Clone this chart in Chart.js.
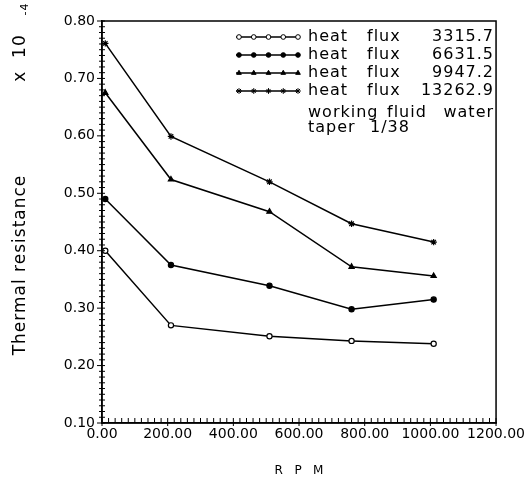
<!DOCTYPE html>
<html>
<head>
<meta charset="UTF-8">
<title>Thermal resistance vs RPM</title>
<script src="https://cdn.jsdelivr.net/npm/chart.js"></script>
<style>
    body { margin: 0; background: #fff; }
    #wrap { width: 528px; height: 484px; }
</style>
</head>
<body>
<div id="wrap"><canvas id="chart" width="528" height="484"></canvas></div>
<script>
// datos
const rpm = [10, 210, 510, 760, 1010];
const flux1 = [0.400, 0.270, 0.251, 0.243, 0.238];
const flux2 = [0.490, 0.375, 0.339, 0.298, 0.315];
const flux3 = [0.675, 0.524, 0.468, 0.372, 0.356];
const flux4 = [0.761, 0.599, 0.520, 0.447, 0.415];
const fluxLabels = ['3315.7', '6631.5', '9947.2', '13262.9'];

const FONT = 'DejaVu Sans';
const styles = [
    { pointStyle: 'circle', radius: 2.6, fill: '#fff' },
    { pointStyle: 'circle', radius: 2.6, fill: '#000' },
    { pointStyle: 'triangle', radius: 3, fill: '#000' },
    { pointStyle: 'star', radius: 3.2, fill: '#000' }
];

function makeSet(label, values, st) {
    return {
        label: 'heat flux ' + label,
        data: values.map((v, i) => ({ x: rpm[i], y: v })),
        borderColor: '#000',
        borderWidth: 1.5,
        pointStyle: st.pointStyle,
        pointRadius: st.radius,
        pointBackgroundColor: st.fill,
        pointBorderColor: '#000',
        pointBorderWidth: 1.2,
        tension: 0
    };
}

function isMultiple(v, step) {
    const q = v / step;
    return Math.abs(q - Math.round(q)) < 1e-6;
}

// ticks menores, marco y textos extra
const extras = {
    id: 'extras',
    afterDraw(chart) {
        const ctx = chart.ctx;
        const a = chart.chartArea;
        const xs = chart.scales.x, ys = chart.scales.y;
        ctx.save();
        ctx.strokeStyle = '#000';
        ctx.lineWidth = 1;
        ys.ticks.forEach(t => {
            const py = ys.getPixelForValue(t.value);
            const big = isMultiple(t.value, 0.1);
            ctx.beginPath();
            ctx.moveTo(a.left - (big ? 5 : 3), py);
            ctx.lineTo(a.left + 3, py);
            ctx.stroke();
        });
        xs.ticks.forEach(t => {
            const px = xs.getPixelForValue(t.value);
            const big = isMultiple(t.value, 200);
            ctx.beginPath();
            ctx.moveTo(px, a.bottom + (big ? 3 : 0));
            ctx.lineTo(px, a.bottom - 5);
            ctx.stroke();
        });
        ctx.lineWidth = 1.5;
        ctx.strokeRect(a.left, a.top, a.right - a.left, a.bottom - a.top);

        // leyenda
        ctx.font = '16px "' + FONT + '"';
        ctx.letterSpacing = '1px';
        ctx.textBaseline = 'middle';
        const lx0 = a.left + 137, lx1 = a.left + 196, tx = a.left + 206, nx = a.right - 2;
        const rowY = [a.top + 16, a.top + 34, a.top + 52, a.top + 70];
        chart.data.datasets.forEach((ds, i) => {
            const y = rowY[i];
            ctx.lineWidth = 1.5;
            ctx.beginPath();
            ctx.moveTo(lx0 - 3, y);
            ctx.lineTo(lx1, y);
            ctx.stroke();
            ctx.lineWidth = 1;
            for (let k = 0; k < 5; k++) {
                const px = lx0 + k * (lx1 - lx0) / 4;
                ctx.fillStyle = ds.pointBackgroundColor;
                Chart.helpers.drawPoint(ctx, {
                    pointStyle: ds.pointStyle, radius: ds.pointRadius * 0.9,
                    rotation: 0, borderWidth: 1
                }, px, y);
            }
            ctx.fillStyle = '#000';
            ctx.textAlign = 'left';
            ctx.fillText('heat', tx, y);
            ctx.fillText('flux', tx + 59, y);
            ctx.textAlign = 'right';
            ctx.fillText(fluxLabels[i], nx, y);
        });
        ctx.fillStyle = '#000';
        ctx.textAlign = 'left';
        ctx.fillText('working', tx, a.top + 92);
        ctx.fillText('fluid', tx + 79, a.top + 92);
        ctx.textAlign = 'right';
        ctx.fillText('water', nx, a.top + 92);
        ctx.textAlign = 'left';
        ctx.fillText('taper', tx, a.top + 107);
        ctx.fillText('1/38', tx + 62, a.top + 107);

        // titulo eje y
        ctx.save();
        ctx.translate(21, 265);
        ctx.rotate(-Math.PI / 2);
        ctx.textAlign = 'center';
        ctx.font = '17px "' + FONT + '"';
        ctx.fillText('Thermal resistance', 0, 0);
        ctx.fillText('x  10', 207, 0);
        ctx.font = '11px "' + FONT + '"';
        ctx.fillText('-4', 256, 4);
        ctx.restore();
        ctx.restore();
    }
};

new Chart(document.getElementById('chart'), {
    type: 'line',
    data: {
        datasets: [
            makeSet(fluxLabels[0], flux1, styles[0]),
            makeSet(fluxLabels[1], flux2, styles[1]),
            makeSet(fluxLabels[2], flux3, styles[2]),
            makeSet(fluxLabels[3], flux4, styles[3])
        ]
    },
    options: {
        responsive: false,
        animation: false,
        layout: { padding: { left: 0, top: 21, right: 31, bottom: 0 } },
        plugins: { legend: { display: false }, tooltip: { enabled: false } },
        scales: {
            x: {
                type: 'linear',
                min: 0,
                max: 1200,
                grid: { display: false, drawTicks: false },
                border: { display: true, color: '#000', width: 1.5 },
                ticks: {
                    stepSize: 20,
                    autoSkip: false,
                    maxRotation: 0,
                    padding: 3,
                    color: '#000',
                    font: { family: FONT, size: 14 },
                    callback: v => isMultiple(v, 200) ? v.toFixed(2) : ''
                },
                title: {
                    display: true,
                    text: 'R   P   M',
                    color: '#000',
                    font: { family: FONT, size: 12 },
                    padding: { top: 0, bottom: 6 }
                },
                afterFit: s => { s.height = 61; }
            },
            y: {
                min: 0.1,
                max: 0.8,
                grid: { display: false, drawTicks: false },
                border: { display: true, color: '#000', width: 1.5 },
                ticks: {
                    stepSize: 0.01,
                    autoSkip: false,
                    padding: 7,
                    color: '#000',
                    font: { family: FONT, size: 14 },
                    callback: v => isMultiple(v, 0.1) ? v.toFixed(2) : ''
                },
                afterFit: s => { s.width = 102; }
            }
        }
    },
    plugins: [extras]
});
</script>
</body>
</html>
